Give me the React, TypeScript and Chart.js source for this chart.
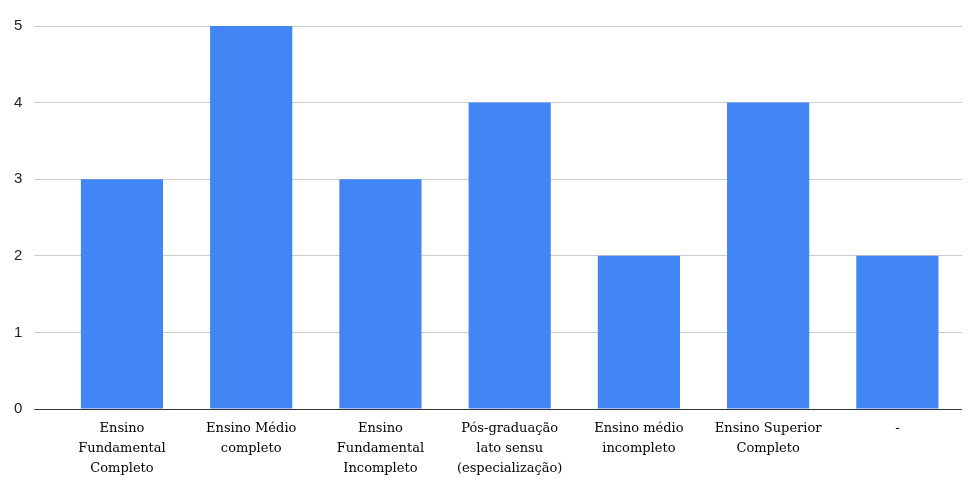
import React, { useEffect, useRef } from "react";
import { Chart, registerables } from "chart.js";

Chart.register(...registerables);

const categories: string[][] = [
  ["Ensino", "Fundamental", "Completo"],
  ["Ensino Médio", "completo"],
  ["Ensino", "Fundamental", "Incompleto"],
  ["Pós-graduação", "lato sensu", "(especialização)"],
  ["Ensino médio", "incompleto"],
  ["Ensino Superior", "Completo"],
  ["-"],
];
const values: number[] = [3, 5, 3, 4, 2, 4, 2];
const yTicks: number[] = [0, 1, 2, 3, 4, 5];

export default function App() {
  const ref = useRef<HTMLCanvasElement | null>(null);
  useEffect(() => {
    if (!ref.current) return;
    const chart = new Chart(ref.current, {
      type: "bar",
      data: {
        labels: categories,
        datasets: [
          {
            data: values,
            backgroundColor: "#4285F4",
            borderWidth: 0,
            barPercentage: 0.636,
            categoryPercentage: 1,
          },
        ],
      },
      options: {
        animation: false,
        responsive: true,
        maintainAspectRatio: false,
        layout: { padding: { top: 26, right: 8, left: 2, bottom: 0 } },
        plugins: { legend: { display: false }, tooltip: { enabled: false } },
        scales: {
          x: {
            grid: { display: false },
            border: { display: false },
            afterFit: (axis: any) => {
              axis.height = 69;
            },
            ticks: {
              color: "#000",
              font: { family: "DejaVu Serif", size: 13, lineHeight: 1.54 },
              maxRotation: 0,
              autoSkip: false,
              padding: 2,
            },
          },
          y: {
            min: 0,
            max: 5,
            afterBuildTicks: (axis: any) => {
              axis.ticks = yTicks.map((v) => ({ value: v }));
            },
            border: { display: false },
            grid: {
              color: (ctx: any) => (ctx.tick && ctx.tick.value === 0 ? "#333" : "#ccc"),
              lineWidth: 1,
              tickLength: 23,
              drawTicks: true,
            },
            ticks: {
              color: "#222",
              font: { family: "Liberation Sans", size: 15 },
              padding: 12,
            },
          },
        },
      },
    });
    return () => chart.destroy();
  }, []);
  return (
    <div style={{ position: "fixed", left: 0, top: 0, width: 970, height: 478, background: "#fff" }}>
      <canvas ref={ref} />
    </div>
  );
}
